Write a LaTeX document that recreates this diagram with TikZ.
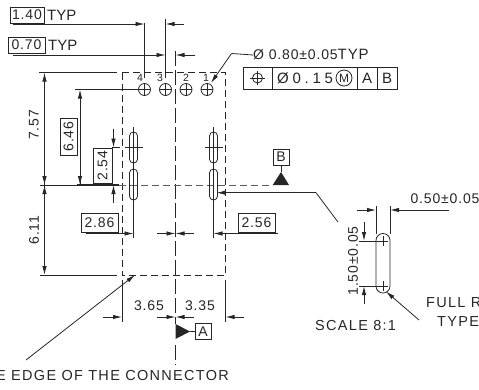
\documentclass[tikz,border=0pt]{standalone}
\usepackage{fontspec}
\setmainfont{Liberation Sans}
\usetikzlibrary{arrows.meta,positioning}
\definecolor{inkline}{gray}{0.15}
\tikzset{
  thinline/.style={line width=0.8pt,draw=inkline},
  dimline/.style={thinline,-{Latex[length=9pt,width=4.4pt]}},
  hiddenline/.style={thinline,dash pattern=on 7pt off 4pt},
  centerline/.style={thinline,dash pattern=on 15pt off 4pt},
  dimtext/.style={font=\addfontfeature{LetterSpace=6}\fontsize{14}{15}\selectfont,inner sep=0pt,text=inkline},
  notetext/.style={font=\addfontfeature{LetterSpace=9}\fontsize{14.5}{15}\selectfont,inner sep=0pt,text=inkline},
  dimbox/.style={dimtext,draw=inkline,line width=0.8pt,inner sep=0pt,minimum height=16pt},
  datumbox/.style={dimtext,draw=inkline,line width=0.8pt,inner sep=0pt,minimum width=16pt,minimum height=16pt},
  pad/.style={thinline,circle,inner sep=0pt,minimum size=12pt},
  slot/.style={thinline,rounded corners=3.9pt}
}
\begin{document}
\begin{tikzpicture}[x=1pt,y=-1pt]
    \useasboundingbox (0,0) rectangle (479,389);
    \begin{scope}
    \clip (0,0) rectangle (479,389);

    % connector outline and the two axes
    \draw[hiddenline] (122,72.5) rectangle (225.5,275);
    \draw[centerline] (175.5,51)--(175.5,324);
    \draw[centerline] (175.5,345)--(175.5,365);
    \draw[hiddenline,draw=inkline!75] (119,185)--(272,185);

    % pads along the top
    \foreach \x/\n/\t/\tx in {144.5/four/4/140,165.5/three/3/160,186/two/2/186,207/one/1/206}{%
      \node[pad] (pad\n) at (\x,89.5) {};
      \draw[thinline] (\x-6,89.5)--(\x+6,89.5);
      \draw[thinline] (\x,83.5)--(\x,95.5);
      \node[dimtext,font=\fontsize{10.5}{11}\selectfont] (num\n) at (\tx,78) {\t};
    }

    % slots, upper and lower row
    \foreach \x/\n in {133.5/left,213.5/right}{%
      \draw[slot] (\x-4,132) rectangle (\x+4,163);
      \draw[slot] (\x-4,169) rectangle (\x+4,200);
      \draw[thinline] (\x-9,147.5)--(\x+9,147.5);
      \draw[thinline] (\x,127)--(\x,167);
      \draw[thinline] (\x,165)--(\x,204);
      \draw[thinline] (\x,204)--(\x,238);
    }

    % pitch callouts at the top left
    \node[dimbox,minimum width=34pt] (boxpitch) at (27,15) {1.40};
    \node[dimtext,font=\fontsize{15}{15}\selectfont,right=2.5pt of boxpitch] (typpitch) {TYP};
    \node[dimbox,minimum width=37pt] (boxhalf) at (26.5,45) {0.70};
    \node[dimtext,font=\fontsize{15}{15}\selectfont,right=2.5pt of boxhalf] (typhalf) {TYP};
    \draw[thinline] (144.5,23)--(144.5,78);
    \draw[thinline] (165.5,19)--(165.5,78);
    \draw[dimline] (13,24)--(144.5,24);
    \draw[dimline] (184,24)--(165.5,24);
    \draw[dimline] (13,55)--(165.5,55);
    \draw[dimline] (195,55)--(175.5,55);

    % vertical dimensions on the left
    \draw[thinline] (39,72.5)--(117,72.5);
    \draw[thinline] (40,275)--(117,275);
    \draw[thinline] (75,89.5)--(138,89.5);
    \draw[thinline] (40,185)--(77,185);
    \draw[line width=1.3pt,draw=inkline] (77,185)--(119,185);
    \draw[thinline] (112,147.5)--(120,147.5);
    \draw[dimline] (44.5,185)--(44.5,72.5);
    \draw[dimline] (44.5,129)--(44.5,185);
    \draw[dimline] (44.5,185)--(44.5,275);
    \draw[dimline] (44.5,230)--(44.5,185);
    \draw[dimline] (80,185)--(80,89.5);
    \draw[dimline] (80,118)--(80,185);
    \draw[dimline] (113.5,129)--(113.5,147.5);
    \draw[dimline] (113.5,203)--(113.5,185);
    \node[dimtext,rotate=90] (dimfull) at (34,125) {7.57};
    \node[dimtext,rotate=90] (dimlow) at (34,230) {6.11};
    \node[dimbox,rotate=90,minimum width=37pt,minimum height=17pt,fill=white] (boxpad) at (68.5,136.5) {6.46};
    \node[dimbox,rotate=90,minimum width=35pt,minimum height=19pt,fill=white] (boxslot) at (102.5,165.5) {2.54};

    % horizontal dimensions below the slots
    \node[dimbox,minimum width=37pt,minimum height=19pt] (boxleft) at (99.5,222.5) {2.86};
    \node[dimbox,minimum width=37pt,minimum height=19pt] (boxright) at (256.5,222.5) {2.56};
    \draw[thinline] (86,233.5)--(122,233.5);
    \draw[dimline] (122,233.5)--(133.5,233.5);
    \draw[dimline] (157,233.5)--(175.5,233.5);
    \draw[dimline] (194,233.5)--(175.5,233.5);
    \draw[dimline] (278,233.5)--(213.5,233.5);

    % overall width
    \draw[thinline] (122,280)--(122,322);
    \draw[thinline] (225.5,280)--(225.5,322);
    \draw[dimline] (103,317)--(122,317);
    \draw[dimline] (157,317)--(175.5,317);
    \draw[dimline] (194,317)--(175.5,317);
    \draw[dimline] (244,317)--(225.5,317);
    \node[dimtext] (dimwleft) at (149,306) {3.65};
    \node[dimtext] (dimwright) at (200,306) {3.35};

    % datum A and datum B
    \node[datumbox] (datuma) at (203,331.5) {A};
    \fill[inkline] (175.5,324)--(190,331.5)--(175.5,339)--cycle;
    \draw[thinline] (190,331.5)--(datuma.west);
    \node[datumbox] (datumb) at (281,157) {B};
    \fill[inkline] (272.7,185)--(281,172)--(289,185)--cycle;
    \draw[thinline] (datumb.south)--(281,172);

    % hole size and position tolerance
    \node[dimtext,anchor=west] (holesize) at (253,55) {Ø 0.80±0.05\fontsize{15}{15}\selectfont TYP};
    \coordinate (holeknee) at (231.5,53.5);
    \draw[thinline] (holesize.west)--(holeknee);
    \draw[dimline] (holeknee)--(211,83);
    \draw[thinline] (243,67) rectangle (397,89);
    \foreach \x in {272,357,377}{%
      \draw[thinline] (\x,67)--(\x,89);
    }
    \node[pad,minimum size=10pt] (tolsymbol) at (257.5,78) {};
    \draw[thinline] (250,78)--(265,78);
    \draw[thinline] (257.5,71)--(257.5,85);
    \node[notetext,font=\addfontfeature{LetterSpace=25}\fontsize{15}{15}\selectfont,anchor=west] (tolvalue) at (277,78) {Ø0.15};
    \node[dimtext,draw=inkline,circle,line width=0.8pt,minimum size=16pt,font=\fontsize{12}{12}\selectfont] (tolmod) at (344,78) {M};
    \node[dimtext,font=\fontsize{15}{15}\selectfont] (tola) at (367,78) {A};
    \node[dimtext,font=\fontsize{15}{15}\selectfont] (tolb) at (387,78) {B};

    % leader to the slot detail
    \coordinate (detailknee) at (316,192.7);
    \coordinate (detailend) at (338,222);
    \draw[thinline] (detailend)--(detailknee);
    \draw[dimline] (detailknee)--(216.5,192.7);

    % slot detail at scale
    \draw[thinline,rounded corners=6.9pt] (376,233.5) rectangle (390,293);
    \foreach \y in {241,286}{%
      \draw[thinline] (378,\y)--(388,\y);
      \draw[thinline] (383,\y-5)--(383,\y+5);
      \draw[thinline] (359,\y)--(378,\y);
    }
    \draw[thinline] (376,206)--(376,233.5);
    \draw[thinline] (390,206)--(390,233.5);
    \draw[dimline] (357,210)--(376,210);
    \draw[dimline] (449,210)--(390,210);
    \draw[dimline] (364,222)--(364,241);
    \draw[dimline] (364,304)--(364,286);
    \node[dimtext] (slotwidth) at (445,199) {0.50±0.05};
    \node[dimtext,rotate=90] (slotlength) at (353,261) {1.50±0.05};
    \coordinate (radiusend) at (419,320);
    \draw[dimline] (radiusend)--(386,291.5);
    \node[notetext,anchor=west] (fullr) at (426,302.5) {FULL R};
    \node[notetext,anchor=west] (typer) at (437,321.5) {TYPE};
    \node[notetext,anchor=west] (scalenote) at (315,326) {SCALE 8:1};

    % connector edge note
    \node[notetext,anchor=west] (edgenote) at (-4,375.5) {E EDGE OF THE CONNECTOR};
    \coordinate (edgeend) at (26,360);
    \draw[dimline] (edgeend)--(135,275);
    \end{scope}
\end{tikzpicture}
\end{document}
